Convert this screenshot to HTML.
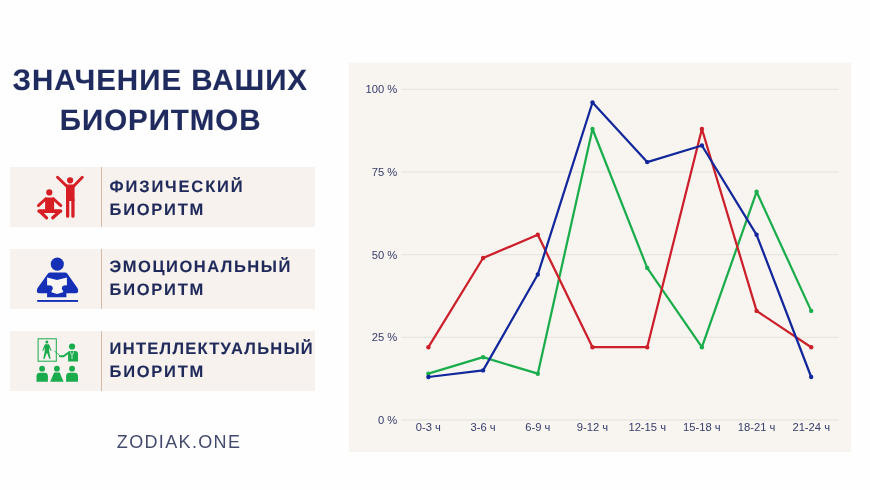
<!DOCTYPE html>
<html lang="ru"><head><meta charset="utf-8"><title>Значение ваших биоритмов</title>
<style>
html,body{margin:0;padding:0;}
body{width:870px;height:490px;position:relative;overflow:hidden;background:#fefefe;font-family:"Liberation Sans",sans-serif;}
.title{position:absolute;left:0.7px;width:320px;text-align:center;color:#1f2a5e;font-weight:bold;font-size:29.5px;line-height:40px;letter-spacing:0.95px;-webkit-text-stroke:0.15px #1f2a5e;text-rendering:geometricPrecision;white-space:nowrap;}
.t1{top:60.9px;letter-spacing:1.02px;left:0.3px;}
.t2{top:100.9px;}
.box{position:absolute;left:10px;width:305px;height:60px;background:#f7f2ee;}
.box .div{position:absolute;left:91px;top:0;width:1px;height:60px;background:#d3bcaa;}
.lbl{position:absolute;left:109.6px;color:#1f2a5a;font-weight:bold;-webkit-text-stroke:0.1px #1f2a5a;font-size:16.5px;text-rendering:geometricPrecision;line-height:20px;letter-spacing:1.3px;white-space:nowrap;}
.bb{letter-spacing:1.73px;}
.a1{letter-spacing:1.84px;} .a2{letter-spacing:1.52px;} .a3{letter-spacing:1.27px;}
.b1{top:167px;} .b2{top:249px;} .b3{top:331px;}
.site{position:absolute;left:116.8px;top:430px;font-size:18px;line-height:24px;color:#444a6e;letter-spacing:1.35px;white-space:nowrap;}
svg.chart,svg.icons{position:absolute;left:0;top:0;}
</style></head><body>
<div class="title t1">ЗНАЧЕНИЕ ВАШИХ</div>
<div class="title t2">БИОРИТМОВ</div>
<div class="box b1"><div class="div"></div></div>
<div class="box b2"><div class="div"></div></div>
<div class="box b3"><div class="div"></div></div>
<div class="lbl a1" style="top:177.03px">ФИЗИЧЕСКИЙ</div>
<div class="lbl bb" style="top:200.03px">БИОРИТМ</div>
<div class="lbl a2" style="top:257.03px">ЭМОЦИОНАЛЬНЫЙ</div>
<div class="lbl bb" style="top:280.03px">БИОРИТМ</div>
<div class="lbl a3" style="top:339.03px">ИНТЕЛЛЕКТУАЛЬНЫЙ</div>
<div class="lbl bb" style="top:362.03px">БИОРИТМ</div>
<div class="site">ZODIAK.ONE</div>
<svg class="chart" width="870" height="490" viewBox="0 0 870 490">
<rect x="349" y="62.8" width="502.1" height="389.3" fill="#f8f5f1"/>
<g font-family="Liberation Sans, sans-serif" font-size="11.2" fill="#343c6a">
<line x1="401" x2="838.6" y1="420.0" y2="420.0" stroke="#e5e1dc" stroke-width="1"/>
<text x="397.3" y="423.9" text-anchor="end">0 %</text>
<line x1="401" x2="838.6" y1="337.3" y2="337.3" stroke="#e5e1dc" stroke-width="1"/>
<text x="397.3" y="341.2" text-anchor="end">25 %</text>
<line x1="401" x2="838.6" y1="254.7" y2="254.7" stroke="#e5e1dc" stroke-width="1"/>
<text x="397.3" y="258.6" text-anchor="end">50 %</text>
<line x1="401" x2="838.6" y1="172.0" y2="172.0" stroke="#e5e1dc" stroke-width="1"/>
<text x="397.3" y="175.9" text-anchor="end">75 %</text>
<line x1="401" x2="838.6" y1="89.3" y2="89.3" stroke="#e5e1dc" stroke-width="1"/>
<text x="397.3" y="93.2" text-anchor="end">100 %</text>
<text x="428.4" y="431.4" text-anchor="middle">0-3 ч</text>
<text x="483.1" y="431.4" text-anchor="middle">3-6 ч</text>
<text x="537.8" y="431.4" text-anchor="middle">6-9 ч</text>
<text x="592.5" y="431.4" text-anchor="middle">9-12 ч</text>
<text x="647.2" y="431.4" text-anchor="middle">12-15 ч</text>
<text x="701.9" y="431.4" text-anchor="middle">15-18 ч</text>
<text x="756.6" y="431.4" text-anchor="middle">18-21 ч</text>
<text x="811.2" y="431.4" text-anchor="middle">21-24 ч</text>
</g>
<polyline points="428.4,373.7 483.1,357.2 537.8,373.7 592.5,129.0 647.2,267.9 701.9,347.2 756.6,191.8 811.2,310.9" fill="none" stroke="#1bad4b" stroke-width="2.25" stroke-linejoin="round" stroke-linecap="round"/>
<circle cx="428.4" cy="373.7" r="2.2" fill="#1bad4b"/><circle cx="483.1" cy="357.2" r="2.2" fill="#1bad4b"/><circle cx="537.8" cy="373.7" r="2.2" fill="#1bad4b"/><circle cx="592.5" cy="129.0" r="2.2" fill="#1bad4b"/><circle cx="647.2" cy="267.9" r="2.2" fill="#1bad4b"/><circle cx="701.9" cy="347.2" r="2.2" fill="#1bad4b"/><circle cx="756.6" cy="191.8" r="2.2" fill="#1bad4b"/><circle cx="811.2" cy="310.9" r="2.2" fill="#1bad4b"/>
<polyline points="428.4,347.2 483.1,258.0 537.8,234.8 592.5,347.2 647.2,347.2 701.9,129.0 756.6,310.9 811.2,347.2" fill="none" stroke="#cc1f2a" stroke-width="2.25" stroke-linejoin="round" stroke-linecap="round"/>
<circle cx="428.4" cy="347.2" r="2.2" fill="#cc1f2a"/><circle cx="483.1" cy="258.0" r="2.2" fill="#cc1f2a"/><circle cx="537.8" cy="234.8" r="2.2" fill="#cc1f2a"/><circle cx="592.5" cy="347.2" r="2.2" fill="#cc1f2a"/><circle cx="647.2" cy="347.2" r="2.2" fill="#cc1f2a"/><circle cx="701.9" cy="129.0" r="2.2" fill="#cc1f2a"/><circle cx="756.6" cy="310.9" r="2.2" fill="#cc1f2a"/><circle cx="811.2" cy="347.2" r="2.2" fill="#cc1f2a"/>
<polyline points="428.4,377.0 483.1,370.4 537.8,274.5 592.5,102.5 647.2,162.1 701.9,145.5 756.6,234.8 811.2,377.0" fill="none" stroke="#12279b" stroke-width="2.25" stroke-linejoin="round" stroke-linecap="round"/>
<circle cx="428.4" cy="377.0" r="2.2" fill="#12279b"/><circle cx="483.1" cy="370.4" r="2.2" fill="#12279b"/><circle cx="537.8" cy="274.5" r="2.2" fill="#12279b"/><circle cx="592.5" cy="102.5" r="2.2" fill="#12279b"/><circle cx="647.2" cy="162.1" r="2.2" fill="#12279b"/><circle cx="701.9" cy="145.5" r="2.2" fill="#12279b"/><circle cx="756.6" cy="234.8" r="2.2" fill="#12279b"/><circle cx="811.2" cy="377.0" r="2.2" fill="#12279b"/>

</svg>
<svg class="icons" width="340" height="490" viewBox="0 0 340 490">
<g fill="#d81e25" stroke="#d81e25" stroke-linecap="round" stroke-linejoin="round">
<circle cx="70.1" cy="180.3" r="3.1" stroke="none"/>
<path d="M57.5 177.3 L66.8 186.2 M82.3 177.3 L73.6 186.2" stroke-width="2.9" fill="none"/>
<path d="M66 185.5 Q66 184.6 67 184.6 L73.6 184.6 Q74.6 184.6 74.6 185.5 L74.6 201 L66 201 Z" stroke="none"/>
<path d="M67.65 200 L67.65 216.2 M72.95 200 L72.95 216.2" stroke-width="3.3" fill="none"/>
<circle cx="49.3" cy="192.4" r="3.1" stroke="none"/>
<rect x="45.1" y="197.5" width="9" height="13" stroke="none"/>
<path d="M45.8 198.8 L38.4 205.6 M53.4 198.8 L60.8 205.6" stroke-width="2.9" fill="none"/>
<path d="M39.2 211.1 L60.4 211.1" stroke-width="3.8" fill="none"/>
<path d="M40.5 212 L46.6 217.8 M59.1 212 L52.8 217.8" stroke-width="3.2" fill="none"/>
</g>
<g fill="#1530b6">
<circle cx="57.3" cy="264.1" r="6.6"/>
<path d="M50.2 272.4 L65 272.4 Q66.6 272.4 67.4 273.8 L77.6 288.2 Q79.6 293.3 75.4 293.3 L66.4 293.3 L66.4 297.3 L47.1 297.3 L47.1 293.3 L39.6 293.3 Q35.4 293.3 37.4 288.2 L47.8 273.8 Q48.6 272.4 50.2 272.4 Z"/>
<rect x="37.2" y="300" width="40.8" height="1.9"/>
<path d="M47.1 277.4 L57 280.1 L66.9 277.4 L66.9 285.2 L63.1 286 L63.1 292.2 L57 293.9 L51.5 292.2 L51.5 286 L47.1 285.2 Z" fill="#f9f6f3"/>
<circle cx="49.9" cy="288.2" r="2.8"/><circle cx="64.7" cy="288.2" r="2.8"/>
</g>
<g fill="#19ab4c">
<rect x="38.1" y="338.8" width="18.2" height="22.4" fill="none" stroke="#19ab4c" stroke-width="1"/>
<circle cx="46.9" cy="342.1" r="1.5"/>
<path d="M44.9 344.2 L49 344.2 L51.6 350.6 L50.8 351 L49.2 347.6 L49.2 351.6 L50.6 358.8 L49.4 359 L46.95 352.4 L44.5 359 L43.3 358.8 L44.7 351.6 L44.7 347.6 L43.1 351 L42.3 350.6 Z"/>
<circle cx="72.05" cy="346.5" r="3.1"/>
<path d="M68.1 354 Q68.1 350.9 71 350.9 L75 350.9 Q78 350.9 78 354 L78 361.6 L68.1 361.6 Z"/>
<path d="M69.5 352 L63.5 356.2 L60 356.2" fill="none" stroke="#19ab4c" stroke-width="2" stroke-linecap="round" stroke-linejoin="round"/>
<path d="M54.4 350.9 L60.3 356" fill="none" stroke="#19ab4c" stroke-width="0.8"/>
<path d="M70.5 351.4 Q70.6 354.8 72 354.9 Q73.4 354.8 73.5 351.4 M72 354.9 L72 357.6" fill="none" stroke="#f3f6ee" stroke-width="0.75"/><circle cx="72" cy="358" r="0.7" fill="#f3f6ee"/>
<circle cx="42.1" cy="368.7" r="2.9"/>
<circle cx="56.9" cy="368.7" r="2.9"/>
<circle cx="72.05" cy="368.7" r="2.9"/>
<path d="M36.5 376.2 Q36.5 372.8 40 372.8 L44.4 372.8 Q47.9 372.8 47.9 376.2 L47.9 381.8 L36.5 381.8 Z"/>
<path d="M54.1 372.6 L59.7 372.6 L63.6 381.8 L50.2 381.8 Z"/>
<path d="M66.1 376.2 Q66.1 372.8 69.6 372.8 L74.5 372.8 Q78 372.8 78 376.2 L78 381.8 L66.1 381.8 Z"/>
</g>
</svg>
</body></html>
